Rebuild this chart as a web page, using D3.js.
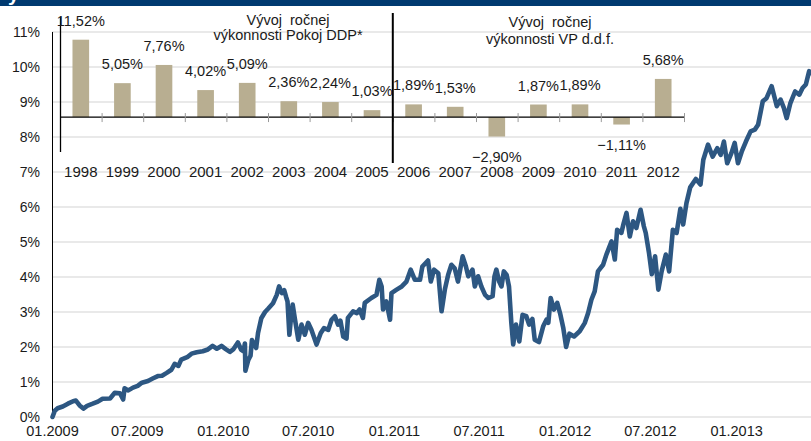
<!DOCTYPE html>
<html>
<head>
<meta charset="utf-8">
<script src="https://cdn.jsdelivr.net/npm/d3@7"></script>
<style>
  html, body { margin: 0; padding: 0; background: #fff; }
  svg { display: block; font-family: "Liberation Sans", Arial, sans-serif; }
</style>
</head>
<body>
<svg id="chart"></svg>
<script>
// Main line: cumulative performance, dates + values (%)
const lineDates = [
  "2009-01-02","2009-01-07","2009-01-13","2009-01-24","2009-02-04","2009-02-15","2009-02-21","2009-03-01",
  "2009-03-09","2009-03-17","2009-03-29","2009-04-09","2009-04-19","2009-05-05","2009-05-15","2009-05-26",
  "2009-06-02","2009-06-05","2009-06-13","2009-06-23","2009-07-03","2009-07-12","2009-07-25","2009-08-04",
  "2009-08-15","2009-08-24","2009-09-03","2009-09-13","2009-09-20","2009-09-28","2009-10-04","2009-10-18",
  "2009-10-26","2009-11-06","2009-11-19","2009-11-30","2009-12-10","2009-12-19","2009-12-29","2010-01-07",
  "2010-01-16","2010-01-23","2010-02-02","2010-02-09","2010-02-14","2010-02-17","2010-02-18","2010-02-24",
  "2010-03-01","2010-03-04","2010-03-10","2010-03-13","2010-03-17","2010-03-24","2010-04-01","2010-04-08",
  "2010-04-18","2010-04-26","2010-05-01","2010-05-07","2010-05-12","2010-05-16","2010-05-19","2010-05-23",
  "2010-05-26","2010-05-30","2010-06-04","2010-06-11","2010-06-18","2010-06-25","2010-07-02","2010-07-09",
  "2010-07-20","2010-07-29","2010-08-05","2010-08-14","2010-08-21","2010-08-28","2010-09-04","2010-09-09",
  "2010-09-15","2010-09-22","2010-09-25","2010-10-06","2010-10-14","2010-10-20","2010-10-27","2010-10-31",
  "2010-11-14","2010-11-25","2010-12-01","2010-12-06","2010-12-09","2010-12-16","2010-12-24","2010-12-27",
  "2011-01-07","2011-01-18","2011-01-28","2011-02-06","2011-02-15","2011-02-26","2011-03-03","2011-03-15",
  "2011-03-21","2011-03-28","2011-04-06","2011-04-13","2011-04-20","2011-04-27","2011-05-04","2011-05-11",
  "2011-05-18","2011-05-28","2011-06-04","2011-06-09","2011-06-18","2011-06-23","2011-06-30","2011-07-07",
  "2011-07-15","2011-07-22","2011-07-31","2011-08-04","2011-08-08","2011-08-14","2011-08-19","2011-08-24",
  "2011-08-30","2011-09-04","2011-09-09","2011-09-13","2011-09-19","2011-09-26","2011-10-03","2011-10-11",
  "2011-10-17","2011-10-24","2011-10-29","2011-11-07","2011-11-16","2011-11-23","2011-11-27","2011-12-02",
  "2011-12-09","2011-12-16","2011-12-22","2011-12-29","2012-01-04","2012-01-11","2012-01-21","2012-02-02",
  "2012-02-13","2012-02-20","2012-02-27","2012-03-05","2012-03-12","2012-03-23","2012-03-30","2012-04-10",
  "2012-04-17","2012-04-22","2012-05-01","2012-05-06","2012-05-12","2012-05-19","2012-05-26","2012-06-02",
  "2012-06-11","2012-06-18","2012-06-22","2012-06-29","2012-07-05","2012-07-12","2012-07-19","2012-07-26",
  "2012-08-04","2012-08-11","2012-08-19","2012-08-27","2012-09-04","2012-09-10","2012-09-17","2012-09-25",
  "2012-10-07","2012-10-17","2012-10-23","2012-11-02","2012-11-12","2012-11-22","2012-11-29","2012-12-06",
  "2012-12-13","2012-12-22","2012-12-29","2013-01-05","2013-01-13","2013-01-22","2013-02-01","2013-02-10",
  "2013-02-17","2013-02-27","2013-03-07","2013-03-18","2013-03-29","2013-04-06","2013-04-13","2013-04-19",
  "2013-04-27","2013-05-07","2013-05-16","2013-05-23","2013-05-30","2013-06-06","2013-06-10"
];
const lineValues = [
  0.00,0.18,0.25,0.30,0.38,0.45,0.47,0.33,
  0.24,0.32,0.38,0.44,0.52,0.53,0.69,0.68,
  0.50,0.82,0.76,0.84,0.89,0.98,1.03,1.10,
  1.17,1.18,1.26,1.35,1.52,1.46,1.64,1.72,
  1.81,1.85,1.88,1.93,2.03,1.95,2.03,1.94,
  1.86,1.93,2.13,1.92,1.88,2.10,1.32,1.62,
  1.75,2.20,2.05,1.97,2.40,2.82,3.00,3.10,
  3.25,3.49,3.73,3.54,3.62,3.43,3.30,2.35,
  2.78,3.21,2.78,2.21,2.64,2.35,2.69,2.49,
  2.07,2.40,2.54,2.49,2.78,2.88,2.64,2.75,
  2.30,2.24,2.83,3.02,2.97,3.07,2.83,3.26,
  3.40,3.49,3.92,3.73,3.07,3.30,2.78,3.54,
  3.64,3.73,3.87,4.21,3.92,3.92,4.30,4.47,
  3.87,4.21,4.11,3.02,3.64,4.06,4.35,4.25,
  3.87,4.59,4.30,4.02,4.21,3.73,4.02,3.73,
  3.49,3.40,3.45,4.02,4.21,3.87,3.73,4.16,
  4.06,3.73,2.69,2.07,2.64,2.16,2.92,2.88,
  2.64,2.80,2.21,2.14,2.59,2.78,2.69,3.40,
  3.07,3.26,2.97,2.54,2.00,2.38,2.30,2.45,
  2.69,2.97,3.35,3.59,4.16,4.35,4.64,5.02,
  4.50,5.35,5.26,5.54,5.83,5.16,5.59,5.40,
  5.92,5.45,5.26,4.69,4.08,4.59,3.64,4.16,
  4.64,4.16,5.35,5.26,5.95,5.50,6.11,6.56,
  6.80,6.64,7.35,7.78,7.44,7.68,7.49,7.87,
  7.25,7.54,7.83,7.25,7.58,7.87,8.16,8.21,
  8.35,9.02,9.11,9.45,8.88,9.07,8.83,8.54,
  8.97,9.30,9.21,9.40,9.50,9.88,9.83
];
const xStart = "2009-01-01";
const xEnd = "2013-06-10";
const xTicks = ["2009-01-01","2009-07-01","2010-01-01","2010-07-01","2011-01-01","2011-07-01","2012-01-01","2012-07-01","2013-01-01"];
const yTicks = [0,1,2,3,4,5,6,7,8,9,10,11];

// Inset: annual performance
const years = ["1998","1999","2000","2001","2002","2003","2004","2005","2006","2007","2008","2009","2010","2011","2012"];
const annualReturns = [11.52,5.05,7.76,4.02,5.09,2.36,2.24,1.03,1.89,1.53,-2.90,1.87,1.89,-1.11,5.68];
const titleLeft = ["Vývoj  ročnej", "výkonnosti Pokoj DDP*"];
const titleRight = ["Vývoj  ročnej", "výkonnosti VP d.d.f."];

const W = 811, H = 441;
const svg = d3.select("#chart").attr("width", W).attr("height", H);

const parse = d3.timeParse("%Y-%m-%d");
const data = lineDates.map((d, i) => ({ date: parse(d), value: lineValues[i] }));

// Top banner (title is cut off at the top edge, as in the source)
svg.append("rect").attr("x", 0).attr("y", 0).attr("width", W).attr("height", 6).attr("fill", "#003a70");
svg.append("text").attr("x", 8).attr("y", 1)
  .style("font-size", "20px").style("font-weight", "bold").attr("fill", "#fff").text("y");

// Scales
const x = d3.scaleTime().domain([parse(xStart), parse(xEnd)]).range([52, 811]);
const y = d3.scaleLinear().domain([0, 11]).range([417, 32]);

// Gridlines
svg.append("g")
  .selectAll("line")
  .data(yTicks)
  .enter()
  .append("line")
  .attr("x1", 52).attr("x2", W)
  .attr("y1", d => y(d)).attr("y2", d => y(d))
  .attr("stroke", "#e2e2e2").attr("stroke-width", 1.3);

// Y axis
const yAxis = svg.append("g")
  .attr("transform", "translate(52,0)")
  .call(d3.axisLeft(y).tickValues(yTicks).tickSize(0).tickPadding(12).tickFormat(d => d + "%"));
yAxis.select(".domain").remove();
yAxis.selectAll("text").style("font-size", "14px").attr("fill", "#1a1a1a").attr("font-family", null);
svg.append("line").attr("x1", 52.5).attr("x2", 52.5).attr("y1", 32).attr("y2", 417.5)
  .attr("stroke", "#000").attr("stroke-width", 1);

// X axis
const xAxis = svg.append("g")
  .attr("transform", "translate(0,417)")
  .call(d3.axisBottom(x).tickValues(xTicks.map(parse)).tickSize(0).tickPadding(9).tickFormat(d3.timeFormat("%m.%Y")));
xAxis.select(".domain").remove();
xAxis.selectAll("text").style("font-size", "14.5px").attr("fill", "#1a1a1a").attr("font-family", null);

// Line
const line = d3.line().x(d => x(d.date)).y(d => y(d.value));
svg.append("path")
  .datum(data)
  .attr("d", line)
  .attr("fill", "none")
  .attr("stroke", "#2d5782")
  .attr("stroke-width", 4.6)
  .attr("stroke-linejoin", "round")
  .attr("stroke-linecap", "round");

// Inset bar chart
const ix = d3.scaleBand().domain(years).range([60, 684]).paddingInner(0.6).paddingOuter(0.3);
const iy = d3.scaleLinear().domain([-5.2, 14.9]).range([152, 17]);
const fmt = d3.formatLocale({ decimal: ",", thousands: " ", grouping: [3], currency: ["", ""] }).format(".2f");

const inset = svg.append("g");

inset.selectAll(".bar")
  .data(years)
  .enter()
  .append("rect")
  .attr("class", "bar")
  .attr("x", d => ix(d))
  .attr("width", ix.bandwidth())
  .attr("y", (d, i) => iy(Math.max(0, annualReturns[i])))
  .attr("height", (d, i) => Math.abs(iy(annualReturns[i]) - iy(0)))
  .attr("fill", "#b8ae91");

// Zero line + band ticks
inset.append("line")
  .attr("x1", 60).attr("x2", 684)
  .attr("y1", iy(0)).attr("y2", iy(0))
  .attr("stroke", "#000").attr("stroke-width", 1.3);
inset.selectAll(".itick")
  .data(d3.range(years.length + 1))
  .enter()
  .append("line")
  .attr("class", "itick")
  .attr("x1", i => 60 + ix.step() * i + 0.5).attr("x2", i => 60 + ix.step() * i + 0.5)
  .attr("y1", iy(0) - 4).attr("y2", iy(0) + 5)
  .attr("stroke", "#9a9a9a").attr("stroke-width", 1);

// Inset vertical axes
inset.append("line").attr("x1", 60.5).attr("x2", 60.5).attr("y1", iy(14.9)).attr("y2", iy(-5.2))
  .attr("stroke", "#000").attr("stroke-width", 1.3);
const divX = ix("2006") - ix.step() * 0.3;
inset.append("line").attr("x1", divX).attr("x2", divX).attr("y1", 13).attr("y2", 163)
  .attr("stroke", "#000").attr("stroke-width", 2);

// Value labels
inset.selectAll(".vlabel")
  .data(years)
  .enter()
  .append("text")
  .attr("class", "vlabel")
  .attr("x", d => ix(d) + ix.bandwidth() / 2)
  .attr("y", (d, i) => annualReturns[i] >= 0 ? iy(annualReturns[i]) - 14 : iy(annualReturns[i]) + 25)
  .attr("text-anchor", "middle")
  .style("font-size", "14.5px")
  .attr("fill", "#1a1a1a")
  .text((d, i) => fmt(annualReturns[i]) + "%");

// Year labels
inset.selectAll(".ylabel")
  .data(years)
  .enter()
  .append("text")
  .attr("class", "ylabel")
  .attr("x", d => ix(d) + ix.bandwidth() / 2)
  .attr("y", 177)
  .attr("text-anchor", "middle")
  .style("font-size", "15px")
  .attr("fill", "#1a1a1a")
  .text(d => d);

// Inset titles
[[titleLeft, 288, [25, 40]], [titleRight, 550, [27, 44]]].forEach(([lines, cx, ys]) => {
  lines.forEach((t, k) => {
    inset.append("text")
      .attr("x", cx).attr("y", ys[k])
      .attr("text-anchor", "middle")
      .style("font-size", "14.5px")
      .style("white-space", "pre")
      .attr("fill", "#1a1a1a")
      .text(t);
  });
});
</script>
</body>
</html>
